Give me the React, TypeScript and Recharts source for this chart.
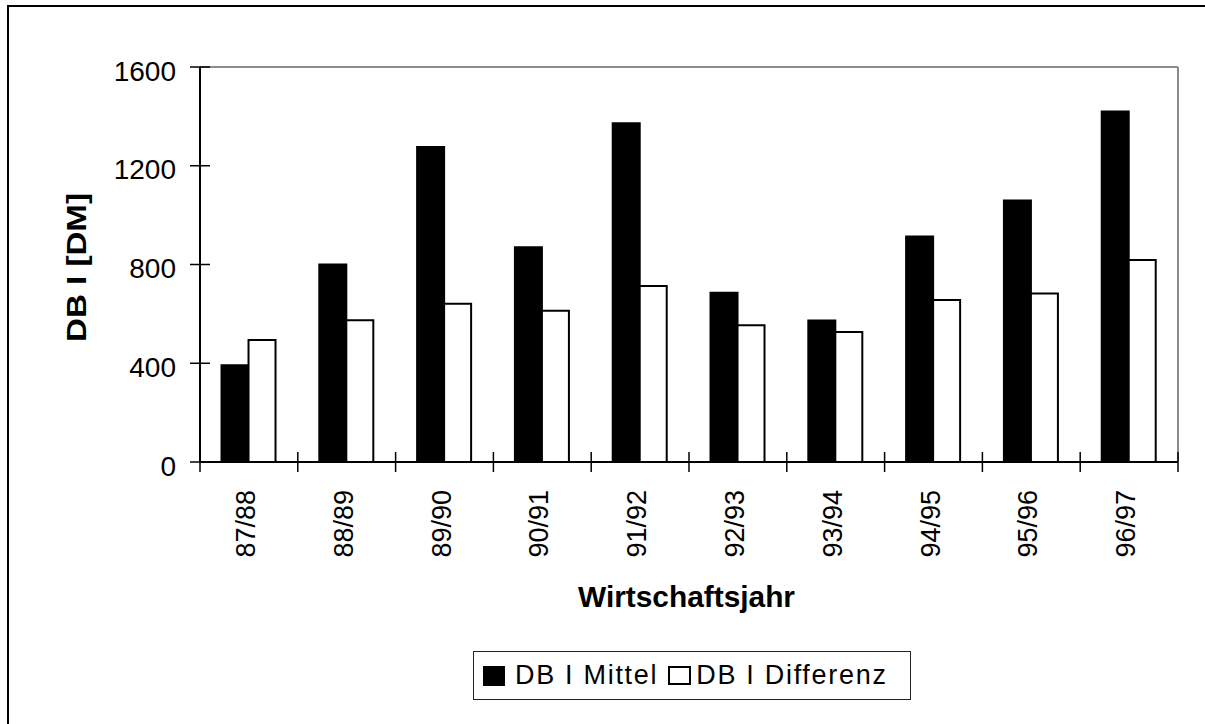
import { Bar, BarChart, Legend, XAxis, YAxis } from "recharts";

const YEARS = ["87/88", "88/89", "89/90", "90/91", "91/92", "92/93", "93/94", "94/95", "95/96", "96/97"];
const DB_MITTEL = [392, 800, 1276, 870, 1372, 686, 573, 913, 1059, 1420];
const DB_DIFFERENZ = [494, 574, 641, 613, 713, 554, 527, 656, 683, 818];
const Y_TICKS = [0, 400, 800, 1200, 1600];
const SERIES_NAMES = ["DB I Mittel", "DB I Differenz"];

const data = YEARS.map((year, i) => ({ year, mittel: DB_MITTEL[i], differenz: DB_DIFFERENZ[i] }));

const W = 1205;
const H = 724;
const PLOT = { left: 200, top: 67, right: 1178, bottom: 462 };
const BAND = (PLOT.right - PLOT.left) / YEARS.length;
const FONT = '"Liberation Sans", Arial, Helvetica, sans-serif';

function YTick({ x, y, payload }: any) {
  return (
    <g>
      <line x1={x - 10} x2={x + 10} y1={y} y2={y} stroke="#000" strokeWidth={1.5} />
      <text x={x - 24} y={y + 13.5} textAnchor="end" fontSize={28} fontFamily={FONT} fill="#000">
        {payload.value}
      </text>
    </g>
  );
}

function XTick({ x, y, payload, index }: any) {
  const left = x - BAND / 2;
  return (
    <g>
      <line x1={left} x2={left} y1={y - 10} y2={y + 10} stroke="#000" strokeWidth={1.5} />
      {index === YEARS.length - 1 && (
        <line x1={x + BAND / 2} x2={x + BAND / 2} y1={y - 10} y2={y + 10} stroke="#000" strokeWidth={1.5} />
      )}
      <text
        transform={`translate(${x + 6}, ${y + 28}) rotate(-90)`}
        textAnchor="end"
        fontSize={27}
        fontFamily={FONT}
        fill="#000"
      >
        {payload.value}
      </text>
    </g>
  );
}

function LegendBox({ payload }: any) {
  const items = [...(payload ?? [])].sort(
    (a: any, b: any) => SERIES_NAMES.indexOf(a.value) - SERIES_NAMES.indexOf(b.value)
  );
  return (
    <div
      style={{
        boxSizing: "border-box",
        width: 438,
        height: 49,
        border: "1px solid #222",
        background: "#fff",
        display: "flex",
        alignItems: "center",
        paddingLeft: 9,
        fontFamily: FONT,
        fontSize: 27,
        letterSpacing: 1.7,
        color: "#000",
        whiteSpace: "nowrap"
      }}
    >
      {items.map((entry: any, i: number) => (
        <span key={entry.value} style={{ display: "flex", alignItems: "center", marginLeft: i === 0 ? 0 : 10 }}>
          <span
            style={{
              boxSizing: "border-box",
              display: "inline-block",
              width: i === 0 ? 22 : 23,
              height: i === 0 ? 20 : 19,
              background: entry.color,
              border: "2px solid #000",
              marginRight: i === 0 ? 10 : 5
            }}
          />
          <span>{entry.value}</span>
        </span>
      ))}
    </div>
  );
}

export default function App() {
  return (
    <div style={{ position: "absolute", left: 0, top: 0, width: W, height: H, overflow: "hidden", background: "#fff" }}>
      <div
        style={{
          position: "absolute",
          left: 7,
          top: 5,
          width: 1400,
          height: 1000,
          border: "2px solid #000"
        }}
      />
      <div style={{ position: "absolute", left: 0, top: 0 }}>
        <BarChart
          width={W}
          height={H}
          data={data}
          margin={{ top: PLOT.top - 1, right: W - PLOT.right - 1, bottom: H - PLOT.bottom - 1, left: PLOT.left - 1 }}
          barCategoryGap="22%"
          barGap={0}
        >
          <Bar dataKey="mittel" name={SERIES_NAMES[0]} fill="#000" stroke="#000" strokeWidth={2} isAnimationActive={false} />
          <Bar dataKey="differenz" name={SERIES_NAMES[1]} fill="#fff" stroke="#000" strokeWidth={2} isAnimationActive={false} />
          <XAxis
            xAxisId="top"
            dataKey="year"
            orientation="top"
            height={1}
            tick={false}
            tickLine={false}
            axisLine={{ stroke: "#8c8c8c", strokeWidth: 2 }}
          />
          <YAxis
            yAxisId="right"
            orientation="right"
            width={1}
            domain={[0, 1600]}
            tick={false}
            tickLine={false}
            axisLine={{ stroke: "#8c8c8c", strokeWidth: 2 }}
          />
          <XAxis
            dataKey="year"
            height={1}
            interval={0}
            tickSize={0}
            tickMargin={0}
            tickLine={false}
            axisLine={{ stroke: "#000", strokeWidth: 2 }}
            tick={(props: any) => <XTick {...props} />}
            label={{
              content: () => (
                <text
                  x={686.5}
                  y={607}
                  textAnchor="middle"
                  fontSize={29}
                  fontWeight="bold"
                  fontFamily={FONT}
                  fill="#000"
                  textLength={217}
                  lengthAdjust="spacingAndGlyphs"
                >
                  Wirtschaftsjahr
                </text>
              )
            }}
          />
          <YAxis
            width={1}
            domain={[0, 1600]}
            ticks={Y_TICKS}
            interval={0}
            tickSize={0}
            tickMargin={0}
            tickLine={false}
            axisLine={{ stroke: "#000", strokeWidth: 2 }}
            tick={(props: any) => <YTick {...props} />}
            label={{
              content: () => (
                <text
                  transform="translate(86, 267.5) rotate(-90)"
                  textAnchor="middle"
                  fontSize={28}
                  fontWeight="bold"
                  fontFamily={FONT}
                  fill="#000"
                  textLength={149}
                  lengthAdjust="spacingAndGlyphs"
                >
                  DB I [DM]
                </text>
              )
            }}
          />
          <Legend
            layout="horizontal"
            verticalAlign="middle"
            align="center"
            content={(props: any) => <LegendBox {...props} />}
            wrapperStyle={{ left: 473, top: 651, width: 438, height: 49 }}
          />
        </BarChart>
      </div>
    </div>
  );
}
